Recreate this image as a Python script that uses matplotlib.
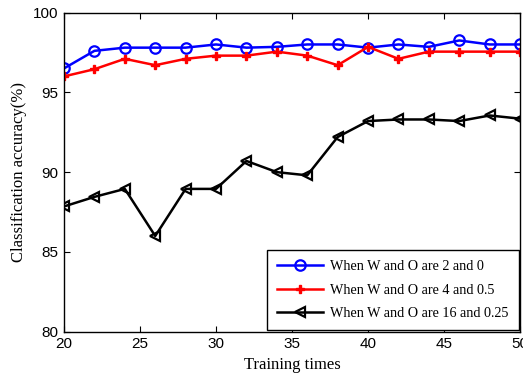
import matplotlib
matplotlib.use("Agg")
import matplotlib.pyplot as plt

x = [20, 22, 24, 26, 28, 30, 32, 34, 36, 38, 40, 42, 44, 46, 48, 50]
blue = [96.5, 97.6, 97.8, 97.8, 97.8, 98.0, 97.8, 97.85, 98.0, 98.0, 97.8, 98.0, 97.85, 98.25, 98.0, 98.0]
red = [96.0, 96.45, 97.1, 96.7, 97.1, 97.3, 97.3, 97.55, 97.3, 96.7, 97.85, 97.1, 97.55, 97.55, 97.55, 97.55]
black = [87.85, 88.45, 88.95, 86.0, 88.95, 88.95, 90.7, 90.0, 89.8, 92.2, 93.2, 93.3, 93.3, 93.2, 93.55, 93.35]
labels = ["When W and O are 2 and 0", "When W and O are 4 and 0.5", "When W and O are 16 and 0.25"]

fig = plt.figure(figsize=(5.23, 3.8), dpi=100)
ax = fig.add_axes([0.1224, 0.127, 0.872, 0.84])

ax.plot(x, blue, color="blue", marker="o", markersize=7.5, markerfacecolor="none",
        markeredgewidth=1.6, linewidth=1.8, label=labels[0])
ax.plot(x, red, color="red", marker="P", markersize=6, linewidth=1.8, label=labels[1])
ax.plot(x, black, color="black", marker="<", markersize=7.5, markerfacecolor="none",
        markeredgewidth=1.6, linewidth=1.8, label=labels[2])

ax.set_xlim(20, 50)
ax.set_ylim(80, 100)
ax.set_xticks([20, 25, 30, 35, 40, 45, 50])
ax.set_yticks([80, 85, 90, 95, 100])
ax.tick_params(direction="in", top=True, right=True, labelsize=11, length=4, pad=4)
for lab in ax.get_xticklabels() + ax.get_yticklabels():
    lab.set_family("Liberation Sans")
for s in ax.spines.values():
    s.set_linewidth(1.0)

ax.set_xlabel("Training times", family="Liberation Serif", fontsize=12)
ax.set_ylabel("Classification accuracy(%)", family="Liberation Serif", fontsize=12)

leg = ax.legend(loc="lower right", prop={"family": "Liberation Serif", "size": 10.2},
                fancybox=False, edgecolor="black", framealpha=1, handlelength=3.3,
                handletextpad=0.5, borderpad=0.7, borderaxespad=0.1,
                labelspacing=0.75)
leg.get_frame().set_linewidth(1.0)

fig.savefig("out.png", dpi=100)
